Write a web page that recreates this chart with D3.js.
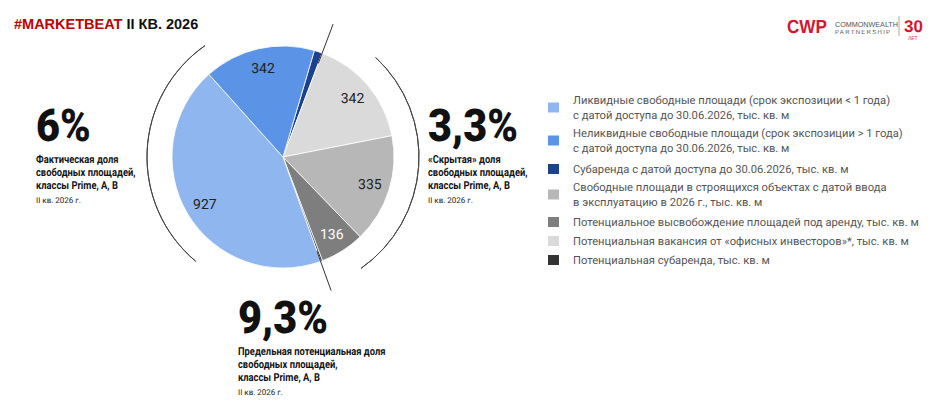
<!DOCTYPE html>
<html><head><meta charset="utf-8">
<script src="https://cdn.jsdelivr.net/npm/d3@7"></script>
<style>body{margin:0;background:#fff} svg text{text-rendering:geometricPrecision}</style></head>
<body><svg id="c" width="942" height="403"></svg>
<script>
const categories = [
 "Субаренда с датой доступа до 30.06.2026, тыс. кв. м",
 "Потенциальная вакансия от «офисных инвесторов»*, тыс. кв. м",
 "Свободные площади в строящихся объектах с датой ввода|в эксплуатацию в 2026 г., тыс. кв. м",
 "Потенциальное высвобождение площадей под аренду, тыс. кв. м",
 "Потенциальная субаренда, тыс. кв. м",
 "Ликвидные свободные площади (срок экспозиции < 1 года)|с датой доступа до 30.06.2026, тыс. кв. м",
 "Неликвидные свободные площади (срок экспозиции > 1 года)|с датой доступа до 30.06.2026, тыс. кв. м"
];
const values = [25, 342, 335, 136, 6, 927, 342];
const showLabel = [false, true, true, true, false, true, true];
const colors = ["#1c428e","#dadada","#b7b7b7","#7e7e7e","#333333","#8fb6ee","#5b93e6"];
const legendOrder = [5, 6, 0, 2, 3, 1, 4];
const legendY = [100, 133, 169, 187, 222, 241, 260];

const svg = d3.select("#c");
const cx = 283, cy = 157, R = 111;
const deg = Math.PI/180;
const pie = d3.pie().sort(null).value(d=>d).startAngle(16.4*deg).endAngle(16.4*deg+2*Math.PI);
const arcs = pie(values);
const arc = d3.arc().innerRadius(0).outerRadius(R);
const g = svg.append("g").attr("transform",`translate(${cx},${cy})`);
g.selectAll("path").data(arcs).join("path").attr("d",arc)
 .attr("fill",(d,i)=>colors[i]).attr("stroke","#fff").attr("stroke-width",0.8);
const la = d3.arc().innerRadius(R*0.82).outerRadius(R*0.82);
g.selectAll("text.v").data(arcs).join("text").filter((d,i)=>showLabel[i])
 .attr("transform",d=>`translate(${la.centroid(d)})`)
 .attr("text-anchor","middle").attr("dy","0.35em")
 .attr("font-family","Roboto").attr("font-size",14)
 .attr("fill",(d)=>d.index===3?"#fff":"#222").text(d=>d.data);
[[220,325],[43,145]].forEach(([a,b])=>{
  g.append("path").attr("d",d3.arc()({innerRadius:136,outerRadius:136,startAngle:a*deg,endAngle:b*deg}))
   .attr("fill","none").attr("stroke","#444").attr("stroke-width",1);
});
[arcs[0].endAngle, arcs[4].endAngle].forEach(a=>{
  g.append("line").attr("x1",Math.sin(a)*100).attr("y1",-Math.cos(a)*100)
   .attr("x2",Math.sin(a)*142).attr("y2",-Math.cos(a)*142).attr("stroke","#333").attr("stroke-width",1);
});
const h = svg.append("text").attr("x",14).attr("y",29).attr("font-family","Liberation Sans").attr("font-weight","bold").attr("font-size",14.5);
h.append("tspan").attr("fill","#c00000").text("#MARKETBEAT");
h.append("tspan").attr("fill","#111").text(" II КВ. 2026");
const lg = svg.append("g");
lg.append("text").attr("x",787).attr("y",33).attr("transform","translate(787,0) scale(0.9,1) translate(-787,0)").attr("font-family","Liberation Sans").attr("font-weight","bold").attr("font-size",19).attr("fill","#d3172f").text("CWP");
lg.append("text").attr("x",835).attr("y",27).attr("font-family","Liberation Sans").attr("font-size",7.2).attr("fill","#555").text("COMMONWEALTH");
lg.append("text").attr("x",835).attr("y",34).attr("font-family","Liberation Sans").attr("font-size",6).attr("letter-spacing",1.3).attr("fill","#555").text("PARTNERSHIP");
lg.append("line").attr("x1",899).attr("x2",899).attr("y1",16).attr("y2",36).attr("stroke","#aaa");
lg.append("text").attr("x",904).attr("y",32).attr("font-family","Liberation Sans").attr("font-weight","bold").attr("font-size",17).attr("fill","#d3172f").text("30");
lg.append("text").attr("x",908).attr("y",40).attr("font-family","Liberation Sans").attr("font-size",5).attr("fill","#d3172f").text("ЛЕТ");
function block(x, y, big, lines, sub){
  const b = svg.append("g").attr("transform",`translate(${x},${y})`);
  b.append("text").attr("transform","scale(0.92,1)").attr("x",0).attr("y",0)
   .attr("font-family","Roboto").attr("font-weight","900").attr("font-size",45).attr("fill","#111").text(big);
  lines.forEach((l,i)=>b.append("text").attr("transform",`translate(0,${22+i*13}) scale(0.85,1)`)
   .attr("font-family","Roboto").attr("font-weight","bold").attr("font-size",11).attr("fill","#111").text(l));
  b.append("text").attr("x",0).attr("y",22+lines.length*13+1)
   .attr("font-family","Roboto").attr("font-size",8).attr("fill","#222").text(sub);
}
block(36,141,"6%",["Фактическая доля","свободных площадей,","классы Prime, A, B"],"II кв. 2026 г.");
block(428,141,"3,3%",["«Скрытая» доля","свободных площадей,","классы Prime, A, B"],"II кв. 2026 г.");
block(238,333,"9,3%",["Предельная потенциальная доля","свободных площадей,","классы Prime, A, B"],"II кв. 2026 г.");
const leg = svg.append("g");
legendOrder.forEach((ci,k)=>{
  const y = legendY[k];
  const lines = categories[ci].split("|");
  const my = y + (lines.length-1)*7.5;
  leg.append("rect").attr("x",548).attr("y",my-5).attr("width",11).attr("height",10).attr("fill",colors[ci]);
  lines.forEach((l,j)=>leg.append("text").attr("x",573).attr("y",y+4+j*15)
   .attr("font-family","Roboto").attr("font-size",11.2).attr("fill","#555").text(l));
});
</script></body></html>
